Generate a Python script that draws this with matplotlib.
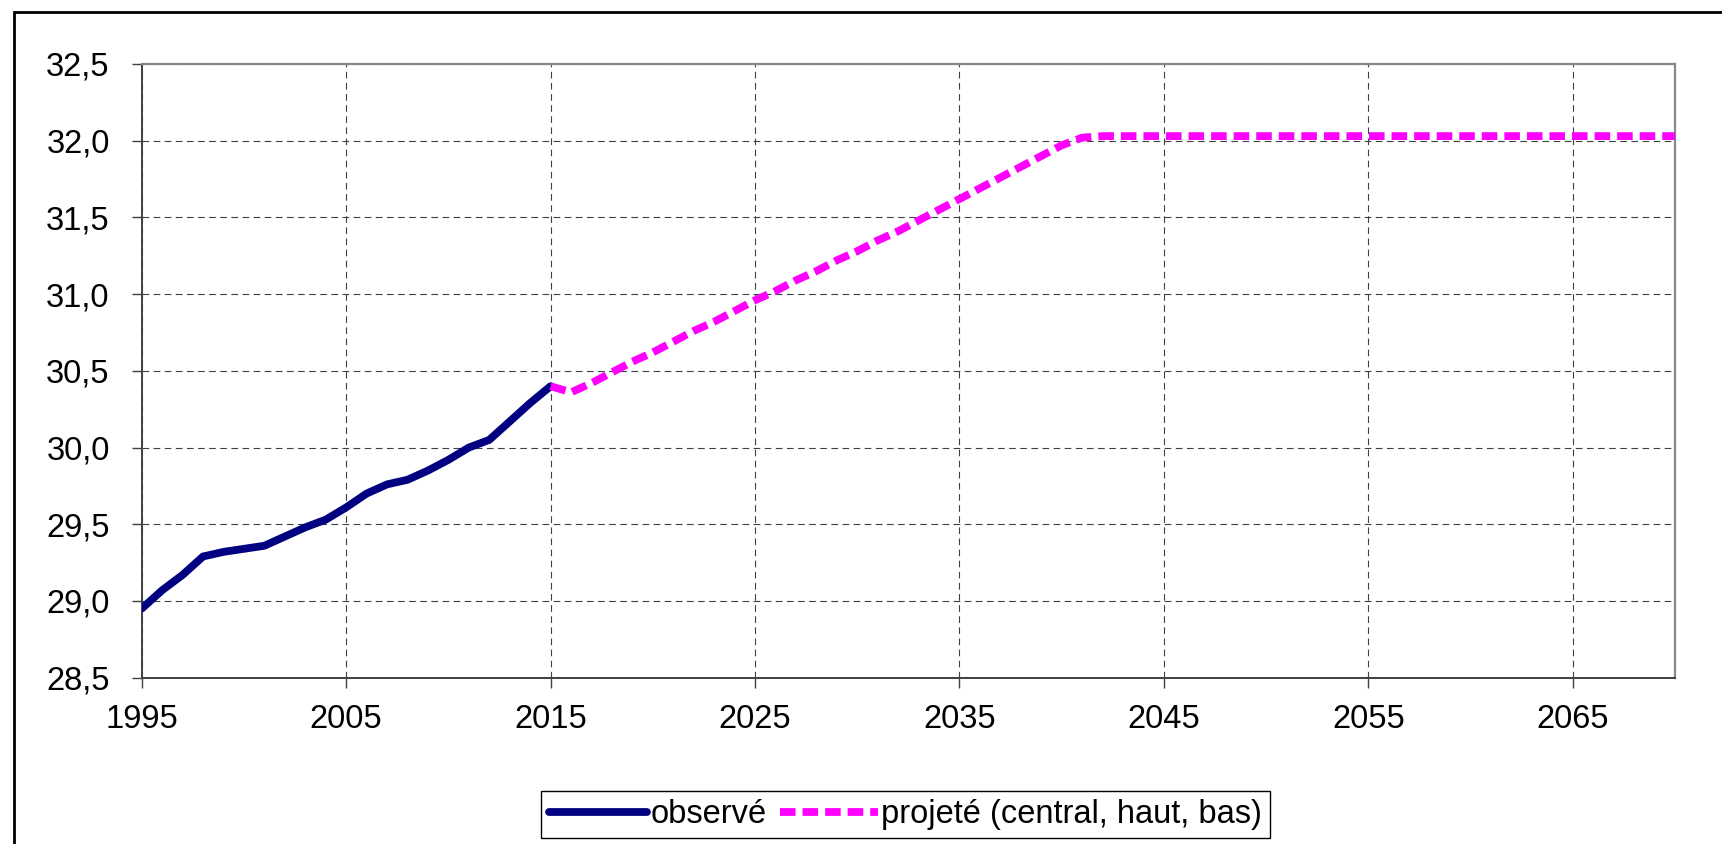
import matplotlib
matplotlib.use("Agg")
import matplotlib.pyplot as plt
from matplotlib.patches import Rectangle

plt.rcParams['font.family'] = ['Liberation Sans', 'DejaVu Sans']

# ---- data ----
obs_years = [1995, 1996, 1997, 1998, 1999, 2000, 2001, 2002, 2003, 2004,
             2005, 2006, 2007, 2008, 2009, 2010, 2011, 2012, 2013, 2014, 2015]
obs_values = [28.95, 29.07, 29.17, 29.29, 29.32, 29.34, 29.36, 29.42, 29.48, 29.53,
              29.61, 29.70, 29.76, 29.79, 29.85, 29.92, 30.00, 30.05, 30.17, 30.29, 30.40]

proj_years = list(range(2015, 2071))
proj_values = [30.40, 30.36, 30.42, 30.49, 30.56, 30.62, 30.69, 30.76, 30.82, 30.89,
               30.96, 31.02, 31.09, 31.15, 31.22, 31.28, 31.35, 31.41, 31.48, 31.55,
               31.62, 31.69, 31.76, 31.83, 31.90, 31.97, 32.02, 32.03, 32.03, 32.03,
               32.03, 32.03, 32.03, 32.03, 32.03, 32.03, 32.03, 32.03, 32.03, 32.03,
               32.03, 32.03, 32.03, 32.03, 32.03, 32.03, 32.03, 32.03, 32.03, 32.03,
               32.03, 32.03, 32.03, 32.03, 32.03, 32.03]

x_ticks = [1995, 2005, 2015, 2025, 2035, 2045, 2055, 2065]
y_ticks = [28.5, 29.0, 29.5, 30.0, 30.5, 31.0, 31.5, 32.0, 32.5]
y_tick_labels = ["28,5", "29,0", "29,5", "30,0", "30,5", "31,0", "31,5", "32,0", "32,5"]
legend_labels = ["observé", "projeté (central, haut, bas)"]

# ---- figure ----
W, H = 1722, 844
fig = plt.figure(figsize=(W / 100, H / 100), dpi=100)
fig.patch.set_facecolor('white')

# outer frame (cropped on right/bottom)
fig.patches.append(Rectangle((14 / W, -0.1), 1.2, 1 - 12 / H + 0.1,
                             transform=fig.transFigure, fill=False,
                             edgecolor='black', linewidth=2.0, zorder=0))

ax_l, ax_r, ax_t, ax_b = 141.7, 1675, 64, 677.7
ax = fig.add_axes([ax_l / W, 1 - ax_b / H, (ax_r - ax_l) / W, (ax_b - ax_t) / H])

l1, = ax.plot(obs_years, obs_values, color='#000080', linewidth=5.6,
              solid_joinstyle='round', solid_capstyle='round', zorder=3)
l2, = ax.plot(proj_years, proj_values, color='#FF00FF', linewidth=5.6,
              dashes=(2.0, 0.9), dash_capstyle='butt', zorder=4)

ax.set_xlim(1995, 2070)
ax.set_ylim(28.5, 32.5)
ax.set_xticks(x_ticks)
ax.set_xticklabels([str(v) for v in x_ticks])
ax.set_yticks(y_ticks)
ax.set_yticklabels(y_tick_labels)

ax.grid(True, color='#404040', linestyle=(0, (6, 4)), linewidth=0.8, zorder=1)

for s in ['left', 'bottom']:
    ax.spines[s].set_color('#404040')
    ax.spines[s].set_linewidth(1.4)
for s in ['top', 'right']:
    ax.spines[s].set_color('#888888')
    ax.spines[s].set_linewidth(1.6)

ax.tick_params(axis='y', direction='out', length=7, width=1, color='#404040',
               labelsize=23.5, pad=16)
ax.tick_params(axis='x', direction='out', length=7, width=1, color='#404040',
               labelsize=23.5, pad=12)

leg = fig.legend([l1, l2], legend_labels, loc='center',
                 bbox_to_anchor=(905.5 / W, 1 - 814.5 / H),
                 bbox_transform=fig.transFigure, ncol=2, fontsize=23.5,
                 frameon=True, fancybox=False, shadow=False, framealpha=1,
                 edgecolor='black', handlelength=3.0, handletextpad=0.1,
                 columnspacing=0.4, borderpad=0.25, borderaxespad=0)
leg.get_frame().set_linewidth(1.0)

fig.savefig('out.png', dpi=100, facecolor='white')
